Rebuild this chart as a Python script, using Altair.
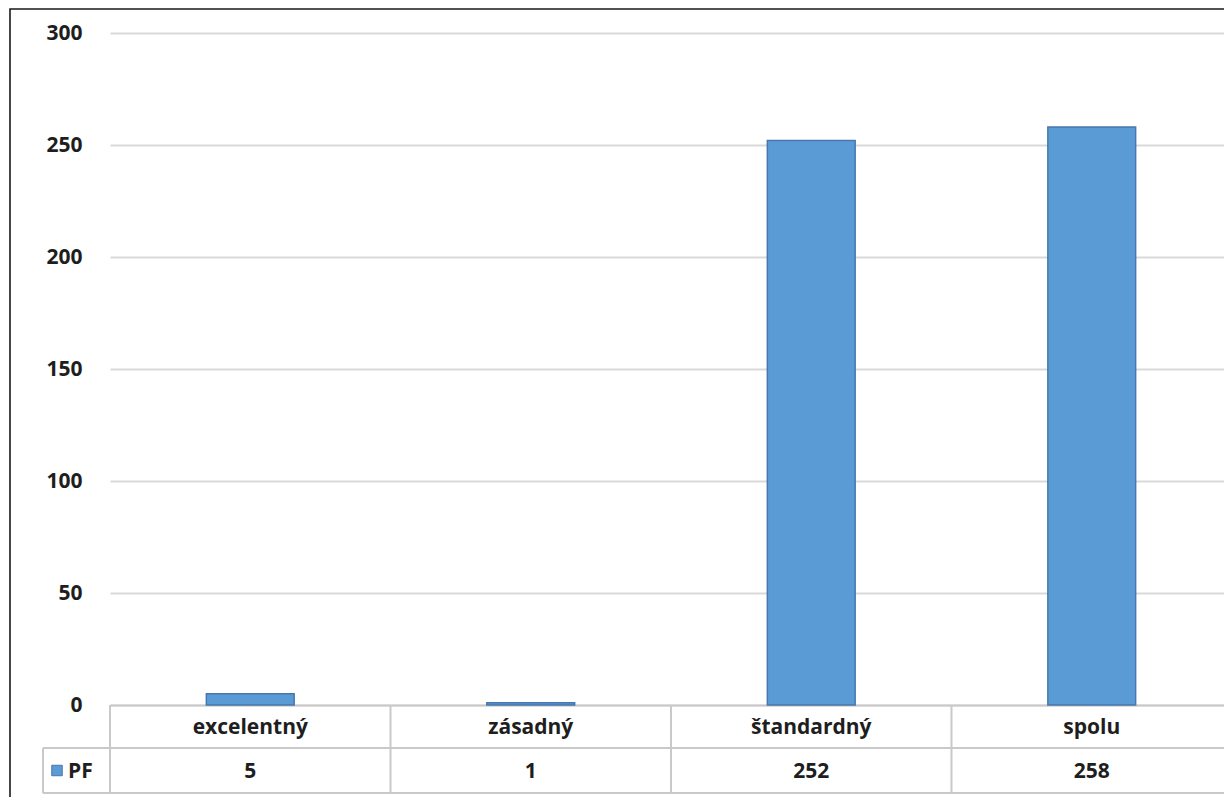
import altair as alt
import pandas as pd

categories = ["excelentný", "zásadný", "štandardný", "spolu"]
values = [5, 1, 252, 258]
series_name = "PF"
y_ticks = [0, 50, 100, 150, 200, 250, 300]

W = 1122
H = 672
ROW1 = 43   # height of category row
ROW2 = 45   # height of value row
FONT = "Open Sans"
FS = 21
TXT = "#1e1e1e"
LINE = "#c9c9c9"

df = pd.DataFrame({"kat": categories, "hodnota": values, "seria": [series_name] * len(categories)})
one = pd.DataFrame({"seria": [series_name]})

x_enc = alt.X("kat:N", sort=categories,
              scale=alt.Scale(paddingInner=0, paddingOuter=0),
              axis=alt.Axis(labels=False, ticks=False, title=None, domain=True,
                            domainColor=LINE, domainWidth=2))

frame = alt.Chart(one).mark_rect(fillOpacity=0, stroke="#1a1a1a", strokeWidth=1.6).encode(
    x=alt.value(-100), x2=alt.value(W + 30), y=alt.value(-24), y2=alt.value(H + 130)
)

bars = alt.Chart(df).mark_bar(
    width={"band": 0.313}, color="#5B9BD5", stroke="#4677AF", strokeWidth=1.5
).encode(
    x=x_enc,
    y=alt.Y("hodnota:Q",
            scale=alt.Scale(domain=[0, 300], nice=False),
            axis=alt.Axis(values=y_ticks, title=None, domain=False, ticks=False,
                          grid=True, gridColor="#d9d9d9", gridWidth=2,
                          labelFont=FONT, labelFontSize=FS, labelFontWeight="bold",
                          labelColor=TXT, labelPadding=28)),
)

vlines = alt.Chart(df).mark_rule(color=LINE, strokeWidth=2).encode(
    x=alt.X("kat:N", sort=categories, bandPosition=0),
    y=alt.value(H), y2=alt.value(H + ROW1 + ROW2),
)

right_line = alt.Chart(one).mark_rule(color=LINE, strokeWidth=2).encode(
    x=alt.value(W - 1), y=alt.value(H), y2=alt.value(H + ROW1 + ROW2)
)

row_line = alt.Chart(one).mark_rule(color=LINE, strokeWidth=2).encode(
    x=alt.value(-67), x2=alt.value(W), y=alt.value(H + ROW1)
)
bottom_line = alt.Chart(one).mark_rule(color=LINE, strokeWidth=2).encode(
    x=alt.value(-67), x2=alt.value(W), y=alt.value(H + ROW1 + ROW2)
)
legend_left = alt.Chart(one).mark_rule(color=LINE, strokeWidth=2).encode(
    x=alt.value(-67), y=alt.value(H + ROW1), y2=alt.value(H + ROW1 + ROW2)
)

cat_text = alt.Chart(df).mark_text(
    font=FONT, fontSize=FS, fontWeight="bold", color=TXT, baseline="middle"
).encode(
    x=alt.X("kat:N", sort=categories), y=alt.value(H + ROW1 / 2 + 1), text="kat:N"
)

val_text = alt.Chart(df).mark_text(
    font=FONT, fontSize=FS, fontWeight="bold", color=TXT, baseline="middle"
).encode(
    x=alt.X("kat:N", sort=categories), y=alt.value(H + ROW1 + ROW2 / 2 + 1), text="hodnota:Q"
)

legend_sym = alt.Chart(one).mark_square(
    size=110, color="#5B9BD5", stroke="#4677AF", strokeWidth=1, opacity=1
).encode(
    x=alt.value(-53), y=alt.value(H + ROW1 + ROW2 / 2)
)
legend_txt = alt.Chart(one).mark_text(
    font=FONT, fontSize=FS, fontWeight="bold", color=TXT, align="left", baseline="middle"
).encode(
    x=alt.value(-42), y=alt.value(H + ROW1 + ROW2 / 2 + 1), text="seria:N"
)

chart = alt.layer(
    frame, bars, vlines, right_line, row_line, bottom_line, legend_left,
    cat_text, val_text, legend_sym, legend_txt
).properties(
    width=W, height=H,
    autosize=alt.AutoSizeParams(type="none"),
    padding={"left": 102, "top": 25, "right": -8, "bottom": 92},
    background="white",
).configure_view(stroke=None)

chart.save("out.html", embed_options={"renderer": "svg", "actions": False})
